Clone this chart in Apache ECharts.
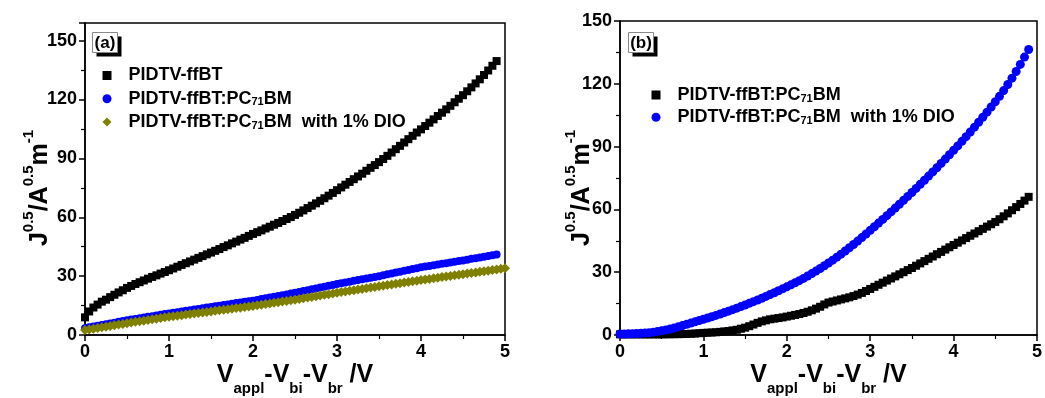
<!DOCTYPE html>
<html>
<head>
<meta charset="utf-8">
<script src="https://cdn.jsdelivr.net/npm/echarts@6/dist/echarts.min.js"></script>
<style>
  html, body { margin: 0; padding: 0; background: #fff; }
  #chart { width: 1045px; height: 398px; }
</style>
</head>
<body>
<div id="chart"></div>
<script>
// applied voltage grid (V), shared by every curve
const volts = [
  0, 0.05, 0.1, 0.15, 0.2, 0.25, 0.3, 0.35, 0.4, 0.45, 0.5, 0.55, 0.6, 0.65, 0.7, 0.75, 0.8, 0.85, 0.9, 0.95,
  1, 1.05, 1.1, 1.15, 1.2, 1.25, 1.3, 1.35, 1.4, 1.45, 1.5, 1.55, 1.6, 1.65, 1.7, 1.75, 1.8, 1.85, 1.9, 1.95,
  2, 2.05, 2.1, 2.15, 2.2, 2.25, 2.3, 2.35, 2.4, 2.45, 2.5, 2.55, 2.6, 2.65, 2.7, 2.75, 2.8, 2.85, 2.9, 2.95,
  3, 3.05, 3.1, 3.15, 3.2, 3.25, 3.3, 3.35, 3.4, 3.45, 3.5, 3.55, 3.6, 3.65, 3.7, 3.75, 3.8, 3.85, 3.9, 3.95,
  4, 4.05, 4.1, 4.15, 4.2, 4.25, 4.3, 4.35, 4.4, 4.45, 4.5, 4.55, 4.6, 4.65, 4.7, 4.75, 4.8, 4.85, 4.9, 4.95, 5
]

// (a) hole-only devices
const jPure = [
  9, 12, 14, 15.5, 17, 18, 19.3, 20.5, 21.7, 22.8, 24, 25, 26, 26.9, 27.8, 28.7, 29.6, 30.4, 31.3, 32.1,
  33, 33.9, 34.8, 35.7, 36.6, 37.5, 38.4, 39.3, 40.2, 41.1, 42, 42.9, 43.8, 44.8, 45.7, 46.7, 47.6, 48.6, 49.5, 50.5,
  51.5, 52.4, 53.3, 54.3, 55.2, 56.2, 57.1, 58.1, 59.1, 60.1, 61.2, 62.3, 63.5, 64.7, 65.9, 67.1, 68.4, 69.7, 71, 72.4,
  73.8, 75.2, 76.6, 78, 79.4, 80.8, 82.2, 83.7, 85.2, 86.6, 88.1, 89.7, 91.3, 93, 94.7, 96.4, 98.1, 99.8, 101.5, 103.2,
  104.8, 106.5, 108.2, 109.9, 111.6, 113.3, 115, 116.8, 118.6, 120.4, 122.2, 124.2, 126.2, 128.2, 130.3, 132.5, 134.8, 137.2, 139.6
]
const jBlendHole = [
  3.5, 3.9, 4.3, 4.7, 5.1, 5.5, 5.9, 6.3, 6.7, 7.1, 7.5, 7.85, 8.2, 8.55, 8.9, 9.25, 9.6, 9.95, 10.3, 10.65,
  11, 11.3, 11.65, 12, 12.3, 12.65, 13, 13.3, 13.65, 14, 14.3, 14.6, 14.95, 15.3, 15.6, 15.9, 16.25, 16.6, 16.9, 17.2,
  17.5, 17.9, 18.3, 18.7, 19.1, 19.5, 19.9, 20.3, 20.7, 21.1, 21.5, 21.9, 22.4, 22.8, 23.3, 23.7, 24.2, 24.6, 25.1, 25.5,
  26, 26.4, 26.8, 27.2, 27.6, 28, 28.4, 28.8, 29.2, 29.6, 30, 30.45, 30.9, 31.35, 31.8, 32.25, 32.7, 33.15, 33.6, 34.05,
  34.5, 34.85, 35.2, 35.55, 35.9, 36.25, 36.6, 36.95, 37.3, 37.65, 38, 38.4, 38.8, 39.15, 39.5, 39.85, 40.2, 40.6, 41
]
const jDioHole = [
  2.5, 2.85, 3.2, 3.55, 3.9, 4.25, 4.6, 4.95, 5.3, 5.65, 6, 6.35, 6.7, 7, 7.3, 7.65, 8, 8.3, 8.65, 9,
  9.3, 9.55, 9.85, 10.1, 10.4, 10.65, 10.9, 11.2, 11.45, 11.75, 12, 12.3, 12.55, 12.85, 13.1, 13.4, 13.7, 13.95, 14.25, 14.5,
  14.8, 15.1, 15.45, 15.75, 16.1, 16.4, 16.7, 17.05, 17.35, 17.7, 18, 18.35, 18.7, 19.05, 19.4, 19.75, 20.1, 20.45, 20.8, 21.15,
  21.5, 21.85, 22.15, 22.5, 22.8, 23.15, 23.5, 23.8, 24.15, 24.45, 24.8, 25.1, 25.45, 25.75, 26.1, 26.4, 26.7, 27.05, 27.35, 27.7,
  28, 28.3, 28.6, 28.9, 29.2, 29.5, 29.8, 30.1, 30.4, 30.7, 31, 31.3, 31.6, 31.9, 32.2, 32.5, 32.8, 33.1, 33.4, 33.7, 34
]

// (b) electron-only devices
const jBlendElec = [
  0.3, 0.3, 0.3, 0.3, 0.3, 0.3, 0.3, 0.3, 0.3, 0.3, 0.3, 0.35, 0.35, 0.4, 0.4, 0.45, 0.5, 0.6, 0.7, 0.85,
  1, 1.1, 1.2, 1.3, 1.5, 1.7, 1.9, 2.2, 2.5, 3, 3.5, 4.2, 5, 5.8, 6.5, 7, 7.5, 7.8, 8.1, 8.4,
  8.8, 9.2, 9.6, 10, 10.5, 11.1, 11.8, 12.6, 13.5, 14.6, 15.5, 16, 16.5, 17, 17.5, 18, 18.6, 19.3, 20.1, 21,
  22, 23, 24, 25, 26, 27, 28, 29, 30, 31, 32, 33.1, 34.2, 35.3, 36.4, 37.5, 38.6, 39.7, 40.8, 41.9,
  43, 44.1, 45.2, 46.3, 47.4, 48.5, 49.6, 50.7, 51.8, 52.9, 54, 55.3, 56.7, 58.1, 59.6, 61.1, 62.6, 64.2, 66
]
const jDioElec = [
  0.5, 0.5, 0.55, 0.6, 0.7, 0.8, 0.95, 1.1, 1.35, 1.65, 2, 2.4, 2.85, 3.35, 3.9, 4.5, 5.1, 5.7, 6.3, 6.9,
  7.5, 8.1, 8.72, 9.36, 10.02, 10.69, 11.38, 12.09, 12.82, 13.57, 14.34, 15.12, 15.92, 16.74, 17.58, 18.44, 19.32, 20.21, 21.12, 22.05,
  23, 23.95, 24.94, 25.97, 27.05, 28.17, 29.33, 30.53, 31.77, 33.06, 34.39, 35.76, 37.17, 38.62, 40.12, 41.66, 43.24, 44.86, 46.52, 48.23,
  50, 51.72, 53.46, 55.22, 57, 58.8, 60.62, 62.46, 64.32, 66.2, 68.1, 70.02, 71.96, 73.92, 75.9, 77.9, 79.92, 81.96, 84.02, 86.1,
  88.2, 90.34, 92.52, 94.74, 97, 99.3, 101.64, 104.02, 106.44, 108.9, 111.4, 114, 116.75, 119.65, 122.7, 125.9, 129.25, 132.75, 136.4
]

const nameA1 = 'PIDTV-ffBT'
const nameA2 = 'PIDTV-ffBT:PC71BM'
const nameA3 = 'PIDTV-ffBT:PC71BM  with 1% DIO'

function pairs(ys) {
  return ys.map((y, i) => [volts[i], y])
}

const FONT = 'Liberation Sans, Arial, sans-serif'

// rich text pieces for the axis titles (super/subscripts via padding shift)
const richTitle = {
  m: { fontSize: 25, fontWeight: 'bold', fontFamily: FONT, color: '#000', lineHeight: 32 },
  p: { fontSize: 15, fontWeight: 'bold', fontFamily: FONT, color: '#000', lineHeight: 2, padding: [0, 0, 22, 0] }
}
const richX = {
  m: { fontSize: 25, fontWeight: 'bold', fontFamily: FONT, color: '#000', lineHeight: 32 },
  b: { fontSize: 15, fontWeight: 'bold', fontFamily: FONT, color: '#000', lineHeight: 2, padding: [27, 0, 0, 0] }
}
const yTitle = '{m|J}{p|0.5}{m|/A}{p|0.5}{m|m}{p|-1}'
const xTitle = '{m|V}{b|appl}{m|-V}{b|bi}{m|-V}{b|br}{m|\u00a0/V}'

function legendFmt(name) {
  if (name.indexOf('PC71') >= 0) {
    const parts = name.split('71')
    return '{t|' + parts[0] + '}{s|71}{t|' + parts[1] + '}'
  }
  return '{t|' + name + '}'
}
const legendRich = {
  t: { fontSize: 18, fontWeight: 'bold', fontFamily: FONT, color: '#000', lineHeight: 18 },
  s: { fontSize: 11, fontWeight: 'bold', fontFamily: FONT, color: '#000', lineHeight: 13, verticalAlign: 'bottom' }
}

function xAxisFor(gridIndex) {
  return {
    type: 'value', gridIndex, min: 0, max: 5, interval: 1,
    name: xTitle, nameLocation: 'middle', nameGap: 24, nameMoveOverlap: false,
    nameTextStyle: { rich: richX },
    axisLine: { lineStyle: { color: '#000', width: 1.5 } },
    axisTick: { length: 6, lineStyle: { color: '#000', width: 1.5 } },
    minorTick: { show: true, splitNumber: 2, length: 4, lineStyle: { color: '#000', width: 1.2 } },
    axisLabel: { margin: 8, color: '#000', fontSize: 18, fontWeight: 'bold', fontFamily: FONT },
    splitLine: { show: false }
  }
}
function yAxisFor(gridIndex, max, gap, shift) {
  return {
    type: 'value', gridIndex, min: 0, max, interval: 30,
    name: yTitle, nameLocation: 'middle', nameRotate: 90, nameGap: gap, nameMoveOverlap: false,
    nameTextStyle: { rich: richTitle, padding: [0, shift, 0, 0] },
    axisLine: { lineStyle: { color: '#000', width: 1.5 } },
    axisTick: { length: 6, lineStyle: { color: '#000', width: 1.5 } },
    minorTick: { show: true, splitNumber: 2, length: 4, lineStyle: { color: '#000', width: 1.2 } },
    axisLabel: { margin: 8, color: '#000', fontSize: 18, fontWeight: 'bold', fontFamily: FONT, showMaxLabel: max === 150 },
    splitLine: { show: false }
  }
}

function panelTag(x, y, label) {
  return {
    type: 'group', left: x, top: y,
    children: [
      { type: 'rect', shape: { x: 4, y: 4, width: 25, height: 20 }, style: { fill: '#000' } },
      { type: 'rect', shape: { x: 0, y: 0, width: 25, height: 20 }, style: { fill: '#fff', stroke: '#888', lineWidth: 1 } },
      { type: 'text', x: 12.5, y: 10.5, style: { text: label, fontSize: 17, fontWeight: 'bold', fontFamily: FONT, fill: '#000', align: 'center', verticalAlign: 'middle' } }
    ]
  }
}

const chart = echarts.init(document.getElementById('chart'))
chart.setOption({
  animation: false,
  backgroundColor: '#fff',
  grid: [
    { left: 85, right: 540, top: 23, bottom: 63, outerBoundsMode: 'none', containLabel: false,
      show: true, borderColor: '#000', borderWidth: 1.5 },
    { left: 620, right: 8, top: 21, bottom: 63, outerBoundsMode: 'none', containLabel: false,
      show: true, borderColor: '#000', borderWidth: 1.5 }
  ],
  xAxis: [xAxisFor(0), xAxisFor(1)],
  yAxis: [yAxisFor(0, 159, 29, 18), yAxisFor(1, 150, 22, 20)],
  legend: [
    {
      orient: 'vertical', left: 102.5, top: 66.5, padding: 0, itemGap: 5.3,
      itemWidth: 9, itemHeight: 9, selectedMode: false,
      formatter: legendFmt,
      textStyle: { rich: legendRich, padding: [0, 0, 0, 12] },
      data: [
        { name: nameA1, icon: 'rect', itemStyle: { color: '#000' } },
        { name: nameA2, icon: 'circle', itemStyle: { color: '#0000ff' } },
        { name: nameA3, icon: 'diamond', itemStyle: { color: '#808000' } }
      ]
    },
    {
      orient: 'vertical', left: 651.5, top: 86, padding: 0, itemGap: 4.3,
      itemWidth: 9, itemHeight: 9, selectedMode: false,
      formatter: legendFmt,
      textStyle: { rich: legendRich, padding: [0, 0, 0, 12] },
      data: [
        { name: nameA2, icon: 'rect', itemStyle: { color: '#000' } },
        { name: nameA3, icon: 'circle', itemStyle: { color: '#0000ff' } }
      ]
    }
  ],
  graphic: [panelTag(92, 32, '(a)'), panelTag(628, 32, '(b)')],
  series: [
    { name: nameA1, type: 'scatter', xAxisIndex: 0, yAxisIndex: 0, symbol: 'rect', symbolSize: 8,
      itemStyle: { color: '#000', opacity: 1 }, data: pairs(jPure) },
    { name: nameA2, type: 'scatter', xAxisIndex: 0, yAxisIndex: 0, symbol: 'circle', symbolSize: 8,
      itemStyle: { color: '#0000ff', opacity: 1 }, data: pairs(jBlendHole) },
    { name: nameA3, type: 'scatter', xAxisIndex: 0, yAxisIndex: 0, symbol: 'diamond', symbolSize: 10,
      itemStyle: { color: '#808000', opacity: 1 }, data: pairs(jDioHole) },
    { name: nameA2, type: 'scatter', xAxisIndex: 1, yAxisIndex: 1, symbol: 'rect', symbolSize: 8,
      itemStyle: { color: '#000', opacity: 1 }, data: pairs(jBlendElec) },
    { name: nameA3, type: 'scatter', xAxisIndex: 1, yAxisIndex: 1, symbol: 'circle', symbolSize: 9,
      itemStyle: { color: '#0000ff', opacity: 1 }, data: pairs(jDioElec) }
  ]
})
window.addEventListener('resize', () => { chart.resize() })
</script>
</body>
</html>
